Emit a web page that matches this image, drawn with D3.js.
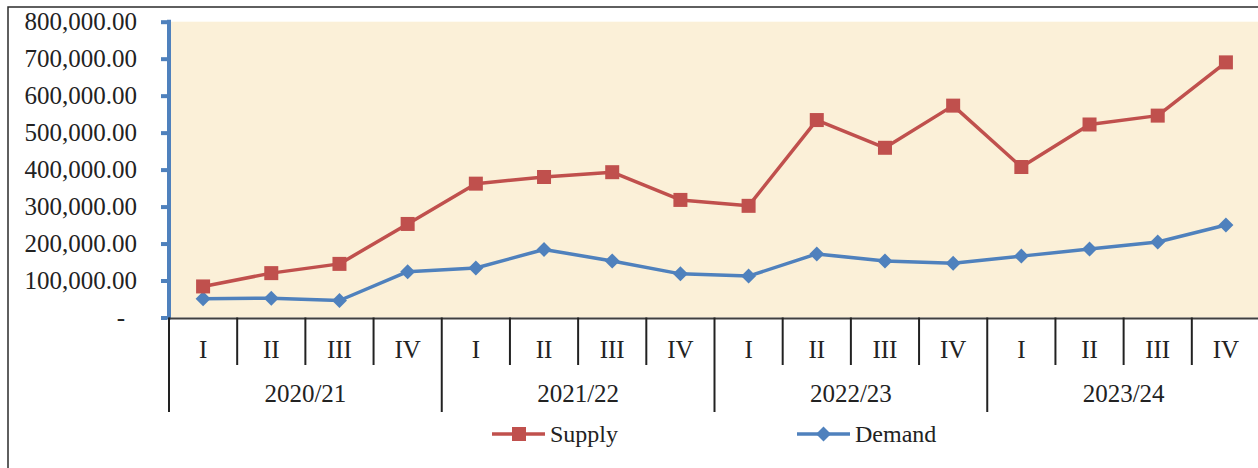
<!DOCTYPE html>
<html>
<head>
<meta charset="utf-8">
<script src="https://cdn.jsdelivr.net/npm/d3@7"></script>
<style>
  body { margin: 0; background: #fff; overflow: hidden; }
  text { font-family: "Liberation Serif", "Times New Roman", serif; fill: #222; }
</style>
</head>
<body>
<div id="chart"></div>
<script>
// Chart data
var years = ["2020/21", "2021/22", "2022/23", "2023/24"];
var quarters = ["I", "II", "III", "IV"];
var supply = [84000, 120000, 145000, 253000, 362000, 380000, 393000, 318000,
              302000, 534000, 459000, 573000, 407000, 522000, 546000, 690000];
var demand = [51000, 52000, 46000, 124000, 134000, 184000, 153000, 118000,
              112000, 172000, 153000, 147000, 166000, 185000, 204000, 250000];
var yTickValues = [0, 100000, 200000, 300000, 400000, 500000, 600000, 700000, 800000];
var yTickLabels = ["-", "100,000.00", "200,000.00", "300,000.00", "400,000.00",
                   "500,000.00", "600,000.00", "700,000.00", "800,000.00"];

var svgWidth = 1258, svgHeight = 468;
var plot = { left: 169, right: 1260, top: 21.7, bottom: 317.5 };

var svg = d3.select("#chart").append("svg")
    .attr("width", svgWidth)
    .attr("height", svgHeight);

// outer frame of the chart
svg.append("rect")
    .attr("x", 8).attr("y", 7)
    .attr("width", 1300).attr("height", 500)
    .attr("fill", "none")
    .attr("stroke", "#2b2b2b")
    .attr("stroke-width", 1.5);

// one category per quarter of each year
var categories = [];
years.forEach(function(y) {
    quarters.forEach(function(q) { categories.push(y + "|" + q); });
});

var x = d3.scaleBand().domain(categories).range([plot.left, plot.right]);
var y = d3.scaleLinear().domain([0, 800000]).range([plot.bottom, plot.top]);

// plot area background
svg.append("rect")
    .attr("x", plot.left).attr("y", plot.top)
    .attr("width", plot.right - plot.left)
    .attr("height", plot.bottom - plot.top)
    .attr("fill", "#fbf0d8");

// y axis (blue, ticks outside)
var yAxis = svg.append("g")
    .attr("transform", `translate(${plot.left},0)`)
    .call(d3.axisLeft(y)
        .tickValues(yTickValues)
        .tickSize(8)
        .tickPadding(24)
        .tickFormat(function(d, i) { return yTickLabels[i]; }));
yAxis.select(".domain").attr("stroke", "#4f81bd").attr("stroke-width", 4)
    .attr("d", `M0,${plot.top - 2}V${plot.bottom + 2}`);
yAxis.selectAll(".tick line").attr("stroke", "#4f81bd").attr("stroke-width", 4)
    .attr("x1", -2);
yAxis.selectAll(".tick text")
    .style("font-family", "Liberation Serif, serif")
    .attr("font-size", 25)
    .attr("fill", "#222")
    .attr("dy", "0.33em")
    .attr("x", function(d) { return d === 0 ? -44 : -32; });

// x axis line
svg.append("line")
    .attr("x1", plot.left).attr("x2", plot.right)
    .attr("y1", plot.bottom + 1).attr("y2", plot.bottom + 1)
    .attr("stroke", "#404040").attr("stroke-width", 2);

// quarter separators and labels
var sep = svg.append("g").attr("stroke", "#222").attr("stroke-width", 2);
categories.forEach(function(c, i) {
    var bx = x(c);
    var isYear = i % 4 === 0;
    sep.append("line")
        .attr("x1", bx).attr("x2", bx)
        .attr("y1", plot.bottom).attr("y2", isYear ? 412 : 365);
});
sep.append("line")
    .attr("x1", plot.right).attr("x2", plot.right)
    .attr("y1", plot.bottom).attr("y2", 412);

svg.selectAll(".qlabel")
    .data(categories)
    .enter().append("text")
    .attr("class", "qlabel")
    .attr("x", d => x(d) + x.bandwidth() / 2)
    .attr("y", 358)
    .attr("text-anchor", "middle")
    .attr("font-size", 25)
    .text(d => d.split("|")[1]);

svg.selectAll(".ylabel")
    .data(years)
    .enter().append("text")
    .attr("class", "ylabel")
    .attr("x", function(d) {
        return (x(d + "|I") + x(d + "|IV") + x.bandwidth()) / 2;
    })
    .attr("y", 402)
    .attr("text-anchor", "middle")
    .attr("font-size", 25)
    .text(d => d);

// series
var cx = function(d, i) { return x(categories[i]) + x.bandwidth() / 2; };
var line = d3.line().x(cx).y(d => y(d));

function diamond(r) {
    return `M0,${-r}L${r},0L0,${r}L${-r},0Z`;
}

var series = [
    { name: "Supply", values: supply, color: "#c0504d", marker: "square" },
    { name: "Demand", values: demand, color: "#4f81bd", marker: "diamond" }
];

// draw demand first, supply on top
series.slice().reverse().forEach(function(s) {
    svg.append("path")
        .datum(s.values)
        .attr("d", line)
        .attr("fill", "none")
        .attr("stroke", s.color)
        .attr("stroke-width", 3.5)
        .attr("stroke-linejoin", "round");

    var marks = svg.selectAll(".m-" + s.name)
        .data(s.values)
        .enter();
    if (s.marker === "square") {
        marks.append("rect")
            .attr("x", (d, i) => cx(d, i) - 7)
            .attr("y", d => y(d) - 7)
            .attr("width", 14).attr("height", 14)
            .attr("fill", s.color);
    } else {
        marks.append("path")
            .attr("transform", (d, i) => `translate(${cx(d, i)},${y(d)})`)
            .attr("d", diamond(7.5))
            .attr("fill", s.color);
    }
});

// legend
var legendItems = [
    { s: series[0], x: 492 },
    { s: series[1], x: 797 }
];
legendItems.forEach(function(item) {
    var g = svg.append("g").attr("transform", `translate(${item.x},434)`);
    g.append("line")
        .attr("x1", 0).attr("x2", 53)
        .attr("stroke", item.s.color).attr("stroke-width", 3.5);
    if (item.s.marker === "square") {
        g.append("rect").attr("x", 20).attr("y", -7)
            .attr("width", 14).attr("height", 14).attr("fill", item.s.color);
    } else {
        g.append("path").attr("transform", "translate(26.5,0)")
            .attr("d", diamond(7.5)).attr("fill", item.s.color);
    }
    g.append("text")
        .attr("x", 58).attr("y", 8)
        .attr("font-size", 24)
        .text(item.s.name);
});
</script>
</body>
</html>
